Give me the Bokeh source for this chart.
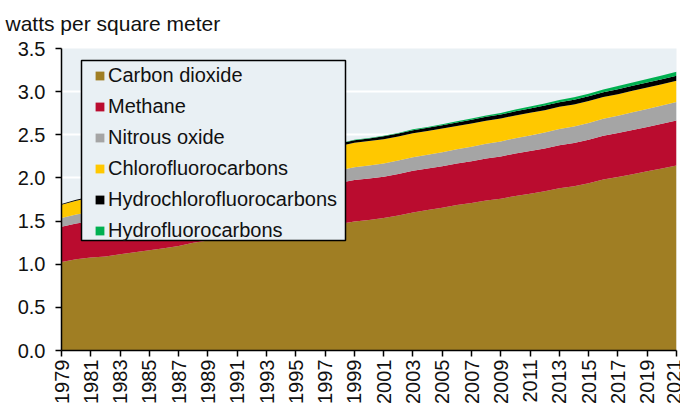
from bokeh.plotting import figure
from bokeh.models import ColumnDataSource, FixedTicker, SingleIntervalTicker, NumeralTickFormatter, Range1d, Legend, BoxAnnotation
from bokeh.embed import file_html
from bokeh.resources import INLINE
import math

years = [1979, 1980, 1981, 1982, 1983, 1984, 1985, 1986, 1987, 1988, 1989, 1990,
         1991, 1992, 1993, 1994, 1995, 1996, 1997, 1998, 1999, 2000, 2001, 2002,
         2003, 2004, 2005, 2006, 2007, 2008, 2009, 2010, 2011, 2012, 2013, 2014,
         2015, 2016, 2017, 2018, 2019, 2020, 2021]
co2 = [1.027, 1.058, 1.077, 1.089, 1.115, 1.140, 1.162, 1.184, 1.211, 1.250, 1.274, 1.293,
       1.313, 1.324, 1.334, 1.356, 1.383, 1.410, 1.426, 1.465, 1.495, 1.513,
       1.535, 1.564, 1.600, 1.627, 1.655, 1.685, 1.710, 1.739, 1.760, 1.791, 1.818,
       1.846, 1.880, 1.905, 1.939, 1.981, 2.011, 2.043, 2.076, 2.109, 2.145]
ch4 = [0.406, 0.413, 0.420, 0.426, 0.429, 0.432, 0.437, 0.442, 0.447, 0.451, 0.455, 0.459,
       0.463, 0.467, 0.467, 0.470, 0.472, 0.473, 0.474, 0.478, 0.481, 0.481,
       0.480, 0.481, 0.483, 0.482, 0.481, 0.481, 0.483, 0.486, 0.489, 0.492, 0.494,
       0.496, 0.499, 0.501, 0.504, 0.507, 0.509, 0.512, 0.515, 0.518, 0.522]
n2o = [0.104, 0.104, 0.107, 0.111, 0.113, 0.116, 0.118, 0.122, 0.121, 0.123, 0.126, 0.129,
       0.131, 0.133, 0.134, 0.134, 0.136, 0.139, 0.142, 0.145, 0.148, 0.151,
       0.153, 0.156, 0.158, 0.160, 0.163, 0.165, 0.169, 0.171, 0.174, 0.178, 0.181,
       0.184, 0.188, 0.190, 0.195, 0.198, 0.201, 0.205, 0.209, 0.212, 0.213]
cfc = [0.152, 0.161, 0.169, 0.178, 0.187, 0.196, 0.205, 0.215, 0.226, 0.240, 0.252, 0.262,
       0.270, 0.275, 0.278, 0.280, 0.281, 0.282, 0.283, 0.283, 0.283, 0.282,
       0.281, 0.279, 0.277, 0.275, 0.273, 0.271, 0.269, 0.267, 0.265, 0.263, 0.261,
       0.259, 0.257, 0.255, 0.253, 0.251, 0.250, 0.249, 0.248, 0.246, 0.245]
hcfc = [0.010, 0.011, 0.011, 0.012, 0.012, 0.013, 0.014, 0.014, 0.015, 0.016, 0.017, 0.018,
        0.019, 0.020, 0.021, 0.022, 0.024, 0.025, 0.027, 0.028, 0.030, 0.031,
        0.033, 0.034, 0.036, 0.037, 0.039, 0.041, 0.043, 0.045, 0.047, 0.049, 0.051,
        0.053, 0.054, 0.055, 0.056, 0.057, 0.058, 0.059, 0.059, 0.060, 0.060]
hfc = [0.000, 0.000, 0.000, 0.000, 0.000, 0.000, 0.000, 0.000, 0.000, 0.001, 0.001, 0.001,
       0.001, 0.001, 0.002, 0.002, 0.003, 0.003, 0.004, 0.004, 0.005, 0.006,
       0.007, 0.008, 0.009, 0.010, 0.012, 0.013, 0.015, 0.016, 0.018, 0.020, 0.022,
       0.024, 0.026, 0.028, 0.030, 0.032, 0.035, 0.037, 0.040, 0.042, 0.045]

series_names = ["Carbon dioxide", "Methane", "Nitrous oxide", "Chlorofluorocarbons",
                "Hydrochlorofluorocarbons", "Hydrofluorocarbons"]
series_keys = ["co2", "ch4", "n2o", "cfc", "hcfc", "hfc"]
colors = ["#A07E23", "#BA0C2F", "#A5A5A5", "#FFC800", "#000000", "#00B050"]
y_label = "watts per square meter"

source = ColumnDataSource(dict(year=years, co2=co2, ch4=ch4, n2o=n2o, cfc=cfc, hcfc=hcfc, hfc=hfc))

FONT = "Liberation Sans"
BG = "#E9F0F4"
TXT = "#111111"

p = figure(width=680, height=406, output_backend="svg", toolbar_location=None,
           x_range=Range1d(years[0], years[-1]), y_range=Range1d(0, 3.5),
           min_border_left=61, min_border_right=4, min_border_top=48, min_border_bottom=54,
           background_fill_color=BG, border_fill_color="white")
p.outline_line_color = None

renderers = p.varea_stack(series_keys, x="year", color=colors, source=source)

p.title.text = y_label
p.title.text_font = FONT
p.title.text_font_size = "21px"
p.title.text_font_style = "normal"
p.title.text_color = TXT
p.title.align = "left"
p.title.vertical_align = "top"
p.title.offset = -56
p.title.standoff = 23

p.xaxis.ticker = FixedTicker(ticks=years[::2])
p.xaxis.major_label_orientation = math.pi / 2
p.yaxis.ticker = SingleIntervalTicker(interval=0.5)
p.yaxis.formatter = NumeralTickFormatter(format="0.0")
for ax in (p.xaxis[0], p.yaxis[0]):
    ax.axis_line_color = "black"
    ax.axis_line_width = 1.5
    ax.major_tick_line_color = "black"
    ax.major_tick_line_width = 1.5
    ax.major_tick_out = 6
    ax.major_tick_in = 0
    ax.minor_tick_line_color = None
    ax.major_label_text_font = FONT
    ax.major_label_text_font_size = "20px"
    ax.major_label_text_color = TXT
p.yaxis.major_label_standoff = 10
p.xaxis.major_label_standoff = 3

p.xgrid.grid_line_color = None
p.ygrid.grid_line_color = "white"
p.ygrid.grid_line_width = 2
p.ygrid.ticker = SingleIntervalTicker(interval=0.5)

# legend frame (screen units relative to the plot frame, y upwards)
legend_box = BoxAnnotation(left=20, right=284, bottom=110, top=290,
                           left_units="screen", right_units="screen",
                           bottom_units="screen", top_units="screen",
                           fill_color=BG, fill_alpha=1.0,
                           line_color="black", line_alpha=1.0, line_width=1.5,
                           level="annotation")
p.add_layout(legend_box)

legend = Legend(items=[(n, [r]) for n, r in zip(series_names, renderers)],
                location=(33, 108), margin=0, padding=2, spacing=8,
                glyph_width=11, glyph_height=11, label_standoff=3, label_height=23,
                label_text_font=FONT, label_text_font_size="20px", label_text_color=TXT,
                border_line_color=None, background_fill_alpha=0.0)
p.add_layout(legend, "center")

open("out.html", "w").write(file_html(p, INLINE))
